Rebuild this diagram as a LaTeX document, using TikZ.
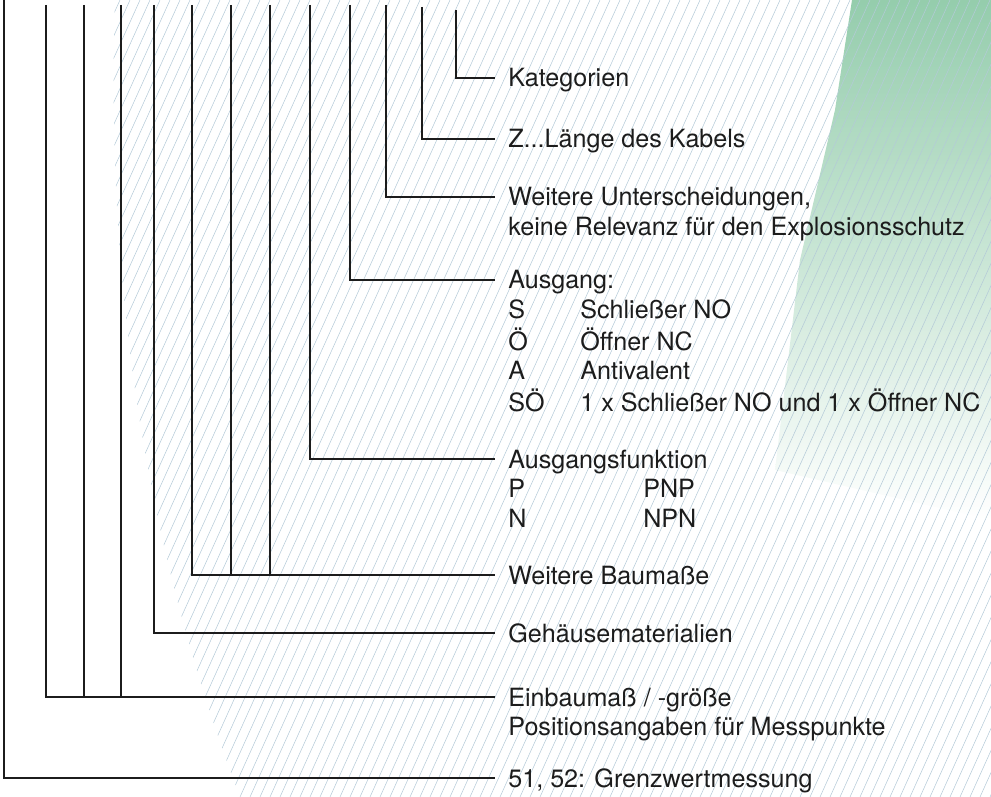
\documentclass[tikz,border=0pt]{standalone}
\usepackage{fontspec}
\setmainfont{TeX Gyre Heros}
\usetikzlibrary{calc,positioning}
\definecolor{leafgreen}{RGB}{130,196,158}
\definecolor{hatchblue}{RGB}{180,202,216}
\definecolor{inkgray}{RGB}{28,28,28}
\newcommand{\txtrows}[2]{\begin{tabular}[t]{@{}#1@{}}#2\end{tabular}}
\tikzset{
  lead/.style={line width=1.2pt,inkgray},
  lbl/.style={anchor=base west,inner sep=0pt,text=inkgray,font=\fontsize{14.3}{16.8}\selectfont},
  hatch/.style={hatchblue,line width=0.3pt},
}

\begin{document}
\begin{tikzpicture}[x=0.02cm,y=-0.02cm]
  \useasboundingbox (0,0) rectangle (991,797);
  \shade[top color=leafgreen,bottom color=white,opacity=.85]
    (852,0) -- (991,0) -- (991,520) -- (775,470) -- (800,260) -- (835,110) -- cycle;
  \begin{scope}
    \clip (115,0) -- (991,0) -- (991,797) -- (240,797) .. controls (150,560) and (105,300) .. (115,0);
    \foreach \i in {-40,...,100} \draw[hatch] (\i*10,797) -- (\i*10+360,0);
  \end{scope}

  \node[lbl] (kat) at (508,87) {Kategorien};
  \node[lbl] (kabel) at (508,148) {Z...Länge des Kabels};
  \node[lbl] (unters) at (508,206) {\txtrows{l}{Weitere Unterscheidungen,\\keine Relevanz für den Explosionsschutz}};
  \node[lbl] (ausg) at (508,289) {\txtrows{p{1.44cm}@{}l}{\multicolumn{2}{@{}l@{}}{Ausgang:}\\
    S & Schließer NO\\ Ö & Öffner NC\\ A & Antivalent\\ SÖ & 1 x Schließer NO und 1 x Öffner NC}};
  \node[lbl] (afunk) at (508,468) {\txtrows{p{2.7cm}@{}l}{\multicolumn{2}{@{}l@{}}{Ausgangsfunktion}\\
    P & PNP\\ N & NPN}};
  \node[lbl] (baum) at (508,584) {Weitere Baumaße};
  \node[lbl] (geh) at (508,642) {Gehäusematerialien};
  \node[lbl] (einbau) at (508,706) {\txtrows{l}{Einbaumaß / -größe\\Positionsangaben für Messpunkte}};
  \node[lbl] (grenz) at (508,787) {51, 52: Grenzwertmessung};

  \foreach \n/\x/\y in {1/4/0,2/46/5,3/84/5,4/121/5,5/154/5,6/192/5,7/231/5,
      8/270/5,9/310/5,10/350/5,11/386/5,12/422/7,13/456/10}
    \coordinate (v\n) at (\x,\y);
  \foreach \t in {kat,kabel,unters,ausg,afunk,baum,geh,einbau,grenz}
    \path ($(\t.base west)+(-13,-9)$) coordinate (\t-in);

  \foreach \v/\t in {v13/kat,v12/kabel,v11/unters,v10/ausg,v9/afunk,v6/baum,v5/geh,v2/einbau,v1/grenz}
    \draw[lead] (\v) |- (\t-in);
  \foreach \v/\t in {v7/baum,v8/baum,v3/einbau,v4/einbau}
    \draw[lead] (\v) -- (\v |- \t-in);
\end{tikzpicture}
\end{document}
